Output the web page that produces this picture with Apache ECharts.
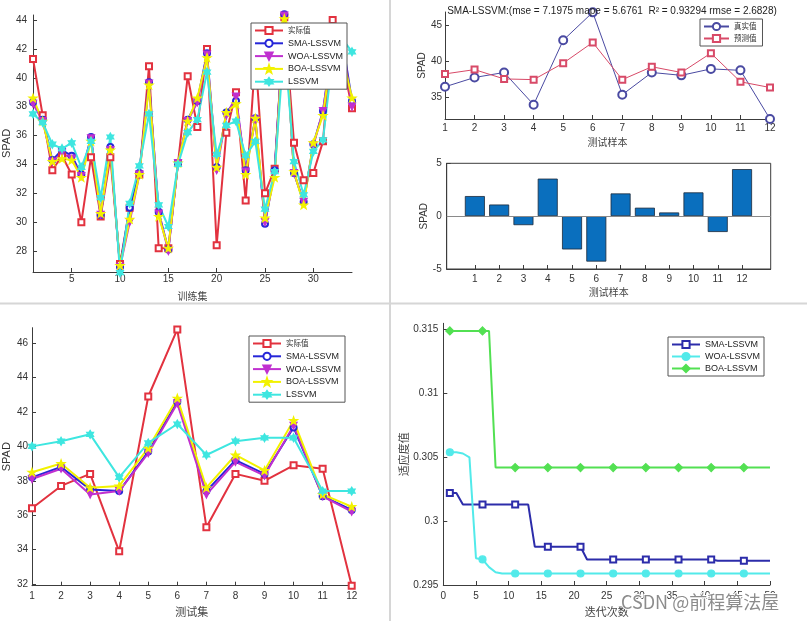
<!DOCTYPE html>
<html><head><meta charset="utf-8">
<script src="https://cdn.jsdelivr.net/npm/echarts@6/dist/echarts.min.js"></script>
<style>html,body{margin:0;padding:0;background:#fff}#c{width:807px;height:621px}</style>
</head><body><div id="c"></div>
<script>
// ---------- data ----------
const trainIdx = [1,2,3,4,5,6,7,8,9,10,11,12,13,14,15,16,17,18,19,20,21,22,23,24,25,26,27,28,29,30,31,32,33,34];
const trainActual = [41.3,37.4,33.6,34.6,33.3,30.0,34.5,30.4,34.5,27.1,31.0,33.3,40.8,28.2,28.2,34.1,40.1,36.6,42.0,28.4,36.2,39.0,31.5,41.5,32.0,33.7,44.2,35.5,32.9,33.4,35.6,44.0,41.2,37.9];
const trainSMA    = [38.3,37.1,34.3,35.0,34.6,33.3,35.9,30.5,35.2,26.9,31.0,33.4,39.7,30.7,28.1,34.1,37.1,38.4,41.7,33.8,37.6,38.4,33.6,37.2,29.9,33.6,44.4,33.4,31.4,35.4,37.7,42.5,42.6,38.4];
const trainWOA    = [38.2,37.0,34.2,34.8,34.4,33.2,35.8,30.5,35.0,26.9,30.0,33.3,39.6,30.6,28.0,34.1,37.0,38.3,41.6,33.6,37.4,38.7,33.5,37.1,30.0,33.4,44.3,33.4,31.4,35.3,37.7,42.4,42.5,38.0];
const trainBOA    = [38.6,37.0,34.2,34.4,34.3,33.1,35.6,30.6,35.0,27.0,30.2,33.3,39.5,30.4,28.2,34.1,37.0,38.6,41.4,33.8,37.6,38.2,33.3,37.2,30.3,33.1,44.1,33.5,31.2,35.5,37.4,42.3,41.5,38.6];
const trainLSSVM  = [37.5,36.9,35.4,35.1,35.5,33.8,35.6,31.7,35.9,26.5,31.3,33.9,37.5,31.2,29.7,34.0,36.2,37.1,40.4,34.7,36.7,37.0,34.6,35.6,30.9,33.5,42.5,34.2,31.9,34.9,35.7,41.5,42.7,41.8];

const testIdx = [1,2,3,4,5,6,7,8,9,10,11,12];
const testActual = [36.4,37.7,38.4,33.9,42.9,46.8,35.3,38.4,38.0,38.9,38.7,31.9];
const testSMA    = [38.2,38.8,37.5,37.4,39.7,42.6,37.4,39.2,38.4,41.1,37.1,36.3];
const testWOA    = [38.1,38.7,37.2,37.4,39.6,42.5,37.2,39.1,38.3,41.2,37.1,36.2];
const testBOA    = [38.5,39.0,37.6,37.7,39.9,42.8,37.6,39.5,38.6,41.5,37.2,36.5];
const testLSSVM  = [40.0,40.3,40.7,38.2,40.2,41.3,39.5,40.3,40.5,40.5,37.4,37.4];
const testError  = [1.9,1.1,-0.85,3.55,-3.15,-4.3,2.15,0.8,0.35,2.25,-1.5,4.45];

const iterIdx = [1,2,3,4,5,6,7,8,9,10,11,12,13,14,15,16,17,18,19,20,21,22,23,24,25,26,27,28,29,30,31,32,33,34,35,36,37,38,39,40,41,42,43,44,45,46,47,48,49,50];
const fitSMA = [0.3022,0.3022,0.3013,0.3013,0.3013,0.3013,0.3013,0.3013,0.3013,0.3013,0.3013,0.3013,0.3013,0.2980,0.2980,0.2980,0.2980,0.2980,0.2980,0.2980,0.2980,0.2970,0.2970,0.2970,0.2970,0.2970,0.2970,0.2970,0.2970,0.2970,0.2970,0.2970,0.2970,0.2970,0.2970,0.2970,0.2970,0.2970,0.2970,0.2970,0.2970,0.2969,0.2969,0.2969,0.2969,0.2969,0.2969,0.2969,0.2969,0.2969];
const fitWOA = [0.3054,0.3054,0.3053,0.3050,0.2971,0.2970,0.2964,0.2960,0.2959,0.2959,0.2959,0.2959,0.2959,0.2959,0.2959,0.2959,0.2959,0.2959,0.2959,0.2959,0.2959,0.2959,0.2959,0.2959,0.2959,0.2959,0.2959,0.2959,0.2959,0.2959,0.2959,0.2959,0.2959,0.2959,0.2959,0.2959,0.2959,0.2959,0.2959,0.2959,0.2959,0.2959,0.2959,0.2959,0.2959,0.2959,0.2959,0.2959,0.2959,0.2959];
const fitBOA = [0.3149,0.3149,0.3149,0.3149,0.3149,0.3149,0.3149,0.3042,0.3042,0.3042,0.3042,0.3042,0.3042,0.3042,0.3042,0.3042,0.3042,0.3042,0.3042,0.3042,0.3042,0.3042,0.3042,0.3042,0.3042,0.3042,0.3042,0.3042,0.3042,0.3042,0.3042,0.3042,0.3042,0.3042,0.3042,0.3042,0.3042,0.3042,0.3042,0.3042,0.3042,0.3042,0.3042,0.3042,0.3042,0.3042,0.3042,0.3042,0.3042,0.3042];

const spadTicks1 = [28,30,32,34,36,38,40,42,44];
const trainTicks = [5,10,15,20,25,30];
const spadTicks2 = [35,40,45];
const errTicks = [-5,0,5];
const spadTicks4 = [32,34,36,38,40,42,44,46];
const fitTicks = [0.295,0.3,0.305,0.31,0.315];

const titleText = 'SMA-LSSVM:(mse = 7.1975 mape = 5.6761  R² = 0.93294 rmse = 2.6828)';

// ---------- styles ----------
const AX = '#3c3c3c';
const LAT = 'Liberation Sans, Arial, sans-serif';
const CJK = 'Noto Sans CJK SC, sans-serif';
const C = {red:'#e2323f', blue:'#2626d8', mag:'#c030d0', yel:'#f2f200', cyan:'#3ee6e0',
           navy:'#2c2caa', cy2:'#52eaea', green:'#52e052', tNavy:'#4a4aa2', tRed:'#d84a68', bar:'#0a6fbe'};
const STAR5 = 'path://M0,-10 L2.35,-3.24 L9.51,-3.09 L3.8,1.24 L5.88,8.09 L0,4 L-5.88,8.09 L-3.8,1.24 L-9.51,-3.09 L-2.35,-3.24 Z';
const STAR6 = 'path://M0,-10 L2.89,-5 L8.66,-5 L5.77,0 L8.66,5 L2.89,5 L0,10 L-2.89,5 L-8.66,5 L-5.77,0 L-8.66,-5 L-2.89,-5 Z';

function xAx(gi, min, max, opt) {
  return Object.assign({
    type:'value', gridIndex:gi, min:min, max:max,
    axisLine:{onZero:false, lineStyle:{color:AX, width:1}},
    axisTick:{inside:true, length:4, lineStyle:{color:AX}},
    splitLine:{show:false},
    axisLabel:{color:'#333', fontSize:10, fontFamily:LAT, margin:3},
    nameLocation:'middle', nameTextStyle:{fontFamily:CJK, fontSize:10, color:'#444'}
  }, opt);
}
function yAx(gi, min, max, opt) {
  return Object.assign({
    type:'value', gridIndex:gi, min:min, max:max,
    axisLine:{show:true, onZero:false, lineStyle:{color:AX, width:1}},
    axisTick:{show:true, inside:true, length:4, lineStyle:{color:AX}},
    splitLine:{show:false},
    axisLabel:{color:'#333', fontSize:10, fontFamily:LAT, margin:5},
    nameLocation:'middle', nameTextStyle:{fontFamily:LAT, fontSize:11, color:'#333'}
  }, opt);
}
function pairs(idx, vals) { return vals.map((v, i) => [idx[i], v]); }
function line(name, gi, idx, vals, color, sym, size, extra) {
  return Object.assign({
    type:'line', name:name, xAxisIndex:gi, yAxisIndex:gi, data:pairs(idx, vals),
    symbol:sym, symbolSize:size, showAllSymbol:true, clip:false, symbolKeepAspect:true,
    lineStyle:{color:color, width:2}, itemStyle:{color:color, borderColor:color, borderWidth:1.2},
    emphasis:{disabled:true}
  }, extra || {});
}
function legend(left, top, names, gap, width) {
  return {
    orient:'vertical', left:left, top:top, selectedMode:false,
    padding:[2,4,2,3], itemGap:gap, itemWidth:width, itemHeight:9,
    backgroundColor:'#fff', borderColor:'#555', borderWidth:1, borderRadius:0,
    textStyle:{fontSize:9, fontFamily:LAT, color:'#222', lineHeight:11},
    formatter: n => n.split('|')[0],
    data: names.map(n => /[\u4e00-\u9fff]/.test(n)
      ? {name:n, textStyle:{fontSize:7.5, fontFamily:CJK, color:'#333'}} : {name:n})
  };
}

const trainNames = ['实际值','SMA-LSSVM','WOA-LSSVM','BOA-LSSVM','LSSVM'];

const option = {
  animation:false,
  backgroundColor:'#fff',
  title:{text:titleText, left:607, top:1, textAlign:'center',
    textStyle:{fontSize:10, fontWeight:'normal', fontFamily:LAT, color:'#222'}},
  grid:[
    {left:27, top:15, width:325, height:257},
    {left:445, top:12, width:325, height:107},
    {left:446.7, top:163.3, width:324, height:105.7, show:true, borderColor:AX, borderWidth:1, backgroundColor:'transparent'},
    {left:25, top:327.7, width:326.7, height:258},
    {left:443.3, top:323.3, width:326.7, height:261.7}
  ],
  xAxis:[
    xAx(0, 1, 34, {name:'训练集', nameGap:19, axisLabel:{color:'#333', fontSize:10, fontFamily:LAT, margin:2, customValues:trainTicks}, axisTick:{inside:true,length:4,lineStyle:{color:AX},customValues:trainTicks}}),
    xAx(1, 1, 12, {name:'测试样本', nameGap:18, axisLabel:{color:'#333', fontSize:10, fontFamily:LAT, margin:4, customValues:testIdx}, axisTick:{inside:true,length:4,lineStyle:{color:AX},customValues:testIdx}}),
    xAx(2, -0.16, 13.18, {name:'测试样本', nameGap:18, axisLabel:{color:'#333', fontSize:10, fontFamily:LAT, margin:5, customValues:testIdx}, axisTick:{inside:true,length:4,lineStyle:{color:AX},customValues:testIdx}}),
    xAx(3, 1, 12, {name:'测试集', nameGap:21, nameTextStyle:{fontFamily:CJK, fontSize:11, color:'#444'}, axisLabel:{color:'#333', fontSize:10, fontFamily:LAT, margin:6, customValues:testIdx}, axisTick:{inside:true,length:4,lineStyle:{color:AX},customValues:testIdx}}),
    xAx(4, 0, 50, {interval:5, name:'迭代次数', nameGap:21, nameTextStyle:{fontFamily:CJK, fontSize:11, color:'#444'}, axisLabel:{color:'#333', fontSize:10, fontFamily:LAT, margin:6}})
  ],
  yAxis:[
    yAx(0, 26.55, 44.35, {name:'SPAD', nameGap:12, axisLabel:{color:'#333', fontSize:10, fontFamily:LAT, margin:6, customValues:spadTicks1}, axisTick:{inside:true,length:4,lineStyle:{color:AX},customValues:spadTicks1}}),
    yAx(1, 31.9, 46.85, {name:'SPAD', nameGap:13, nameTextStyle:{fontFamily:LAT, fontSize:10, color:'#333'}, axisLabel:{color:'#333', fontSize:10, fontFamily:LAT, margin:3, customValues:spadTicks2}, axisTick:{inside:true,length:4,lineStyle:{color:AX},customValues:spadTicks2}}),
    yAx(2, -5, 5, {name:'SPAD', nameGap:14, nameTextStyle:{fontFamily:LAT, fontSize:10, color:'#333'}, axisLabel:{color:'#333', fontSize:10, fontFamily:LAT, margin:5, customValues:errTicks}, axisTick:{inside:true,length:4,lineStyle:{color:AX},customValues:errTicks}}),
    yAx(3, 31.9, 46.9, {name:'SPAD', nameGap:20, axisLabel:{color:'#333', fontSize:10, fontFamily:LAT, margin:4, customValues:spadTicks4}, axisTick:{inside:true,length:4,lineStyle:{color:AX},customValues:spadTicks4}}),
    yAx(4, 0.295, 0.3155, {name:'适应度值', nameGap:33, nameTextStyle:{fontFamily:CJK, fontSize:11, color:'#444'}, axisLabel:{color:'#333', fontSize:10, fontFamily:LAT, margin:5, customValues:fitTicks, formatter:v => String(+(+v).toFixed(3))}, axisTick:{inside:true,length:4,lineStyle:{color:AX},customValues:fitTicks}})
  ],
  legend:[
    legend(251, 23, trainNames, 1.8, 28),
    Object.assign(legend(700, 19, ['真实值','预测值'], 1, 25), {padding:[2,6,2,3]}),
    legend(249, 336, trainNames, 1.8, 28),
    legend(668, 337, ['SMA-LSSVM|c','WOA-LSSVM|c','BOA-LSSVM|c'], 1, 28)
  ],
  series:[
    line('实际值', 0, trainIdx, trainActual, C.red, 'emptyRect', 6),
    line('SMA-LSSVM', 0, trainIdx, trainSMA, C.blue, 'emptyCircle', 6),
    line('WOA-LSSVM', 0, trainIdx, trainWOA, C.mag, 'triangle', 7, {symbolRotate:180}),
    line('BOA-LSSVM', 0, trainIdx, trainBOA, C.yel, STAR5, 8),
    line('LSSVM', 0, trainIdx, trainLSSVM, C.cyan, STAR6, 8),

    line('真实值', 1, testIdx, testActual, C.tNavy, 'emptyCircle', 8, {lineStyle:{color:C.tNavy, width:1}}),
    line('预测值', 1, testIdx, testSMA, C.tRed, 'emptyRect', 6, {lineStyle:{color:C.tRed, width:1}}),

    {type:'bar', name:'误差', xAxisIndex:2, yAxisIndex:2, data:pairs(testIdx, testError), barWidth:20,
     itemStyle:{color:C.bar, borderColor:'#1d2a3a', borderWidth:0.8},
     markLine:{silent:true, symbol:'none', label:{show:false}, lineStyle:{color:'#8a8a8a', type:'solid', width:1.2}, data:[{yAxis:0}]}},

    line('实际值', 3, testIdx, testActual, C.red, 'emptyRect', 6),
    line('SMA-LSSVM', 3, testIdx, testSMA, C.blue, 'emptyCircle', 6),
    line('WOA-LSSVM', 3, testIdx, testWOA, C.mag, 'triangle', 7, {symbolRotate:180}),
    line('BOA-LSSVM', 3, testIdx, testBOA, C.yel, STAR5, 8),
    line('LSSVM', 3, testIdx, testLSSVM, C.cyan, STAR6, 8),

    line('SMA-LSSVM|c', 4, iterIdx, fitSMA, C.navy, 'emptyRect', (v, p) => p.dataIndex % 5 === 0 ? 6 : 0),
    line('WOA-LSSVM|c', 4, iterIdx, fitWOA, C.cy2, 'circle', (v, p) => p.dataIndex % 5 === 0 ? 7 : 0),
    line('BOA-LSSVM|c', 4, iterIdx, fitBOA, C.green, 'diamond', (v, p) => p.dataIndex % 5 === 0 ? 8 : 0)
  ],
  graphic:[
    {type:'line', shape:{x1:390, y1:0, x2:390, y2:621}, style:{stroke:'#d6d6d6', lineWidth:2}, z:100},
    {type:'line', shape:{x1:0, y1:303.5, x2:807, y2:303.5}, style:{stroke:'#d6d6d6', lineWidth:2}, z:100},
    {type:'text', left:620, top:592, z:100, style:{text:'CSDN @前程算法屋', fontSize:18, fontFamily:'Noto Sans CJK SC, Liberation Sans, sans-serif', fill:'#8c8c8c', stroke:'#fff', lineWidth:2}}
  ]
};
const chart = echarts.init(document.getElementById('c'), null, {renderer:'canvas'});
chart.setOption(option);
</script>
</body></html>
